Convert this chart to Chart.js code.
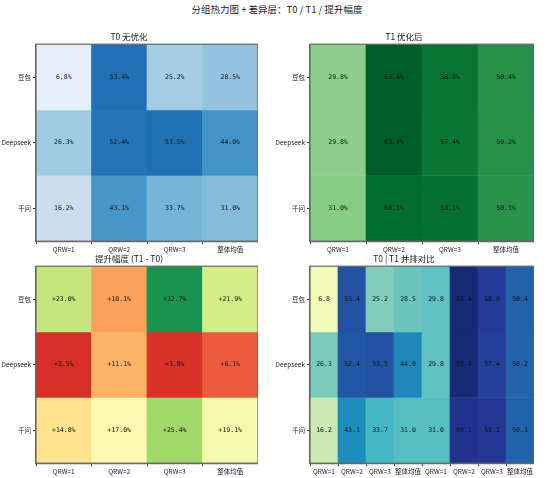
<!DOCTYPE html>
<html><head><meta charset="utf-8">
<script src="https://cdn.jsdelivr.net/npm/chart.js@4"></script>
<style>
body{margin:0;width:554px;height:478px;background:#fff;position:relative;font-family:"Noto Sans CJK SC";}
#t{position:absolute;top:2px;left:0;width:554px;text-align:center;font-size:9.5px;color:#222;}
canvas{position:absolute;}
</style></head><body>
<div id="t">分组热力图 + 差异层：T0 / T1 / 提升幅度</div>
<script>
const rows = ['豆包','Deepseek','千问'];
const cols = ['QRW=1','QRW=2','QRW=3','整体均值'];
const t0 = [[6.8,53.4,25.2,28.5],[26.3,52.4,53.5,44.0],[16.2,43.1,33.7,31.0]];
const t1 = [[29.8,63.4,58.0,50.4],[29.8,63.4,57.4,50.2],[31.0,60.1,59.1,50.1]];
const diff = [[23.0,10.1,32.7,21.9],[3.5,11.1,3.8,6.1],[14.8,17.0,25.4,19.1]];

const BLUES=['#f7fbff','#deebf7','#c6dbef','#9ecae1','#6baed6','#4292c6','#2171b5','#08519c','#08306b'];
const GREENS=['#f7fcf5','#e5f5e0','#c7e9c0','#a1d99b','#74c476','#41ab5d','#238b45','#006d2c','#00441b'];
const RDYLGN=['#a50026','#d73027','#f46d43','#fdae61','#fee08b','#ffffbf','#d9ef8b','#a6d96a','#66bd63','#1a9850','#006837'];
const YLGNBU=['#ffffd9','#edf8b1','#c7e9b4','#7fcdbb','#41b6c4','#1d91c0','#225ea8','#253494','#081d58'];
function hex(h){return [1,3,5].map(i=>parseInt(h.substr(i,2),16));}
function cmap(stops,v,lo,hi){let t=Math.max(0,Math.min(1,(v-lo)/(hi-lo)))*(stops.length-1);let i=Math.min(Math.floor(t),stops.length-2),f=t-i;
 const a=hex(stops[i]),b=hex(stops[i+1]);return 'rgb('+a.map((x,k)=>Math.round(x+(b[k]-x)*f)).join(',')+')';}

const labelPlugin={id:'lbl',afterDatasetsDraw(c){const ctx=c.ctx;ctx.save();ctx.fillStyle='#111';ctx.font='6.5px "DejaVu Sans Mono"';ctx.textAlign='center';ctx.textBaseline='middle';
 c.data.datasets.forEach((ds,di)=>{c.getDatasetMeta(di).data.forEach((el,j)=>{const p=el.getProps(['x','y','base'],true);ctx.fillText(ds.txt[j],p.x,(p.y+p.base)/2);});});
 const a=c.chartArea;ctx.strokeStyle='#666';ctx.lineWidth=1.2;ctx.strokeRect(a.left,a.top,a.right-a.left,a.bottom-a.top);ctx.restore();}};

function panel(left,top,w,h,title,values,colLabels,colorFn,fmt){
 const cv=document.createElement('canvas');const L=36,T=13,B=14,R=4;
 cv.style.left=(left-L)+'px';cv.style.top=(top-T)+'px';cv.width=w+L+R;cv.height=h+T+B;cv.style.width=cv.width+'px';cv.style.height=cv.height+'px';
 document.body.appendChild(cv);
 const datasets=values.map((r,i)=>({data:r.map(()=>[i-0.5,i+0.5]),backgroundColor:r.map(v=>colorFn(v)),txt:r.map(fmt),barPercentage:1,categoryPercentage:1,borderWidth:0}));
 new Chart(cv,{type:'bar',data:{labels:colLabels,datasets},plugins:[labelPlugin],
  options:{responsive:false,animation:false,devicePixelRatio:1,layout:{padding:0},
   plugins:{legend:{display:false},tooltip:{enabled:false},title:{display:true,text:title,color:'#222',font:{size:8.5,family:'Noto Sans CJK SC',weight:'normal'},padding:{top:0,bottom:2}}},
   scales:{x:{stacked:true,offset:true,grid:{display:true,drawOnChartArea:false,tickLength:3,color:'#333'},border:{color:'#666',width:1.2},ticks:{color:'#222',font:{size:6.5,family:'Noto Sans CJK SC'},padding:1,maxRotation:0,autoSkip:false}},
    y:{stacked:false,reverse:true,min:-0.5,max:2.5,afterBuildTicks:a=>{a.ticks=[0,1,2].map(v=>({value:v}));},afterFit:a=>{a.width=L;},
     grid:{display:true,drawOnChartArea:false,tickLength:3,color:'#333'},border:{color:'#666',width:1.2},ticks:{color:'#222',font:{size:6.5,family:'Noto Sans CJK SC'},padding:2,callback:v=>rows[v]}}}}});
}
panel(36,45,218,195,'T0 无优化',t0,cols,v=>cmap(BLUES,v,0,71),v=>v.toFixed(1)+'%');
panel(310,45,220,195,'T1 优化后',t1,cols,v=>cmap(GREENS,v,0,69),v=>v.toFixed(1)+'%');
panel(36,267,218,195,'提升幅度 (T1 - T0)',diff,cols,v=>cmap(RDYLGN,v,0,36),v=>'+'+v.toFixed(1)+'%');
const both=t0.map((r,i)=>r.concat(t1[i]));
panel(310,267,220,195,'T0 | T1 并排对比',both,cols.concat(cols),v=>cmap(YLGNBU,v,0,68),v=>v.toFixed(1));
</script></body></html>
